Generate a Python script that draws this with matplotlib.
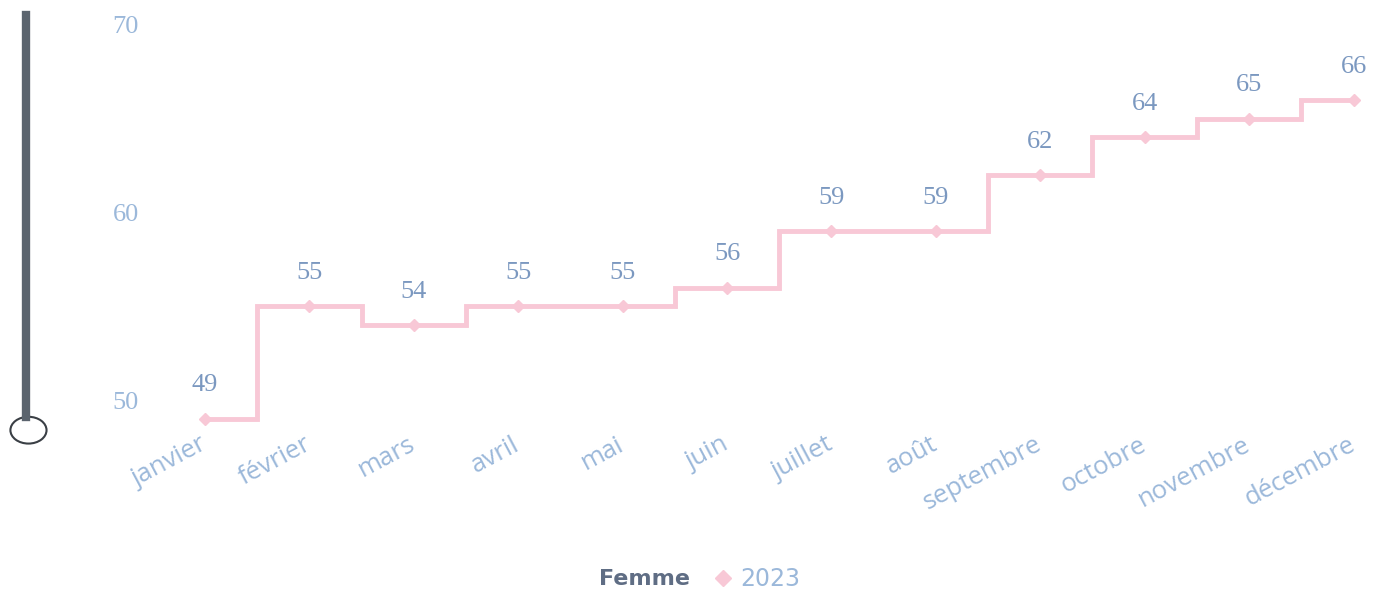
import matplotlib.pyplot as plt
from matplotlib.lines import Line2D
from matplotlib.patches import Ellipse

months = ['janvier', 'février', 'mars', 'avril', 'mai', 'juin', 'juillet',
          'août', 'septembre', 'octobre', 'novembre', 'décembre']
values = [49, 55, 54, 55, 55, 56, 59, 59, 62, 64, 65, 66]
yticks = [50, 60, 70]
series_name = '2023'
legend_title = 'Femme'

pink = '#f8c8d6'
label_blue = '#9bb8da'
value_blue = '#7b98c0'

fig = plt.figure(figsize=(13.89, 5.95), dpi=100)
ax = fig.add_axes([0.110, 0.2647, 0.887, 0.7248])

x = list(range(len(months)))
ax.plot(x, values, drawstyle='steps-mid', color=pink, linewidth=3.5,
        solid_joinstyle='miter')
ax.plot(x, values, linestyle='', marker='D', markersize=6, color=pink)

# value labels above each point
for xi, v in zip(x, values):
    ax.annotate(str(v), (xi, v), xytext=(0, 24), textcoords='offset points',
                ha='center', va='center', fontsize=19, color=value_blue,
                family='Liberation Serif')

ax.set_xlim(-0.5, 11.3)
ax.set_ylim(48, 71)
ax.set_yticks(yticks)
ax.set_yticklabels([str(t) for t in yticks], family='Liberation Serif',
                   fontsize=19, color=label_blue)
ax.set_xticks(x)
ax.set_xticklabels(months, rotation=28, ha='right', va='center',
                   rotation_mode='anchor', family='Open Sans', fontsize=18.5,
                   color=label_blue)
ax.tick_params(axis='both', length=0)
ax.tick_params(axis='y', pad=10)
ax.tick_params(axis='x', pad=4)
for s in ax.spines.values():
    s.set_visible(False)

# decorative bar on the left
fig.add_artist(Line2D([0.019, 0.019], [0.975, 0.30], transform=fig.transFigure,
                      color='#5b646e', linewidth=6))
fig.add_artist(Ellipse((0.0205, 0.277), 0.026, 0.045, transform=fig.transFigure,
                       facecolor='white', edgecolor='#3a3f45', linewidth=1.5))

# legend at the bottom
fig.text(0.497, 0.027, legend_title, ha='right', va='center', fontsize=16,
         fontweight='bold', color='#5f6d84', family='DejaVu Sans')
handle = Line2D([], [], linestyle='', marker='D', markersize=8, color=pink)
fig.legend([handle], [series_name], loc='center left',
           bbox_to_anchor=(0.497, 0.027), frameon=False, handletextpad=0.2,
           handlelength=1.0, prop={'family': 'DejaVu Sans', 'size': 17},
           labelcolor=label_blue)

fig.savefig('out.png', dpi=100)
